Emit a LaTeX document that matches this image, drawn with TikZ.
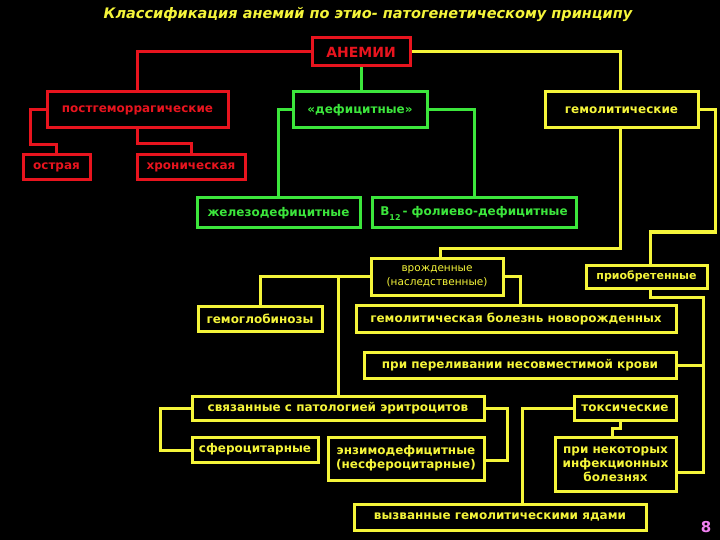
\documentclass[tikz,border=0pt]{standalone}
\usepackage{fontspec}
\setmainfont{DejaVu Sans}
\usetikzlibrary{calc}
\definecolor{rr}{HTML}{E8141E}
\definecolor{gg}{HTML}{3CE63C}
\definecolor{yy}{HTML}{F5F53A}
\definecolor{pk}{HTML}{F080F0}
\newcommand{\bx}[7]{\node[draw=#6,text=#6,line width=3pt,inner sep=0pt,minimum width=#4-#2,minimum height=#5-#3,align=center,font=\fontsize{12}{14}\selectfont\bfseries] (#1) at ({(#2+#4)/2},{(#3+#5)/2}) {#7};}
\begin{document}
\begin{tikzpicture}[x=1pt,y=-1pt,line width=3pt]
\fill[black] (0,0) rectangle (720,540);
\useasboundingbox (0,0) rectangle (720,540);
\node[text=yy,font=\fontsize{14.5}{16}\selectfont\bfseries\itshape] (title) at (368,15) {Классификация анемий по этио- патогенетическому принципу};
\bx{an}{312}{38}{410}{66}{rr}{\fontsize{14}{15}\selectfont\bfseries АНЕМИИ}
\bx{pg}{47}{92}{228}{128}{rr}{постгеморрагические}
\bx{df}{293}{92}{427}{128}{gg}{«дефицитные»}
\bx{gm}{545}{92}{698}{128}{yy}{гемолитические}
\bx{os}{23}{155}{90}{180}{rr}{острая}
\bx{hr}{137}{155}{245}{180}{rr}{хроническая}
\bx{zh}{197}{198}{360}{228}{gg}{железодефицитные}
\bx{bf}{372}{198}{576}{228}{gg}{B\raisebox{-5pt}{\fontsize{8}{8}\selectfont 12}\,- фолиево-дефицитные}
\bx{vr}{371}{258}{503}{295}{yy}{\fontsize{10.5}{12}\selectfont\mdseries врожденные\\\fontsize{10.5}{12}\selectfont\mdseries(наследственные)}
\bx{pr}{586}{265}{707}{288}{yy}{\fontsize{11}{12}\selectfont приобретенные}
\bx{hb}{198}{306}{322}{331}{yy}{гемоглобинозы}
\bx{hn}{356}{305}{676}{332}{yy}{гемолитическая болезнь новорожденных}
\bx{pp}{364}{352}{676}{378}{yy}{при переливании несовместимой крови}
\bx{sv}{192}{396}{484}{420}{yy}{связанные с патологией эритроцитов}
\bx{tx}{574}{396}{676}{420}{yy}{токсические}
\bx{sf}{192}{437}{318}{462}{yy}{сфероцитарные}
\bx{en}{328}{437}{484}{480}{yy}{энзимодефицитные\\(несфероцитарные)}
\bx{in}{555}{437}{676}{491}{yy}{при некоторых\\инфекционных\\болезнях}
\bx{vy}{354}{504}{646}{530}{yy}{вызванные гемолитическими ядами}
\node[text=pk,font=\fontsize{15}{16}\selectfont\bfseries] (num) at (706,527) {8};
% red
\draw[rr] (an.west) -| (pg.north);
\draw[rr] (pg.west) -| (30,145) -| (os.north);
\draw[rr] (pg.south) |- ($(hr.north)+(0,-10)$) -- (hr.north);
% green
\draw[gg] (an.south) -- (an.south|-df.north);
\draw[gg] (df.west) -| (zh.north-|278,0);
\draw[gg] (df.east) -| (bf.north-|474,0);
% yellow
\draw[yy] (an.east) -| (gm.north-|620,0);
\draw[yy] (gm.south-|620,0) |- (440,248) -- (vr.north-|440,0);
\draw[yy] (gm.east) -| (715,232) -| (pr.north-|650,0);
\draw[yy] (vr.west) -| (hb.north-|260,0);
\draw[yy] (338,276.5) -- (sv.north-|338,0);
\draw[yy] (vr.east) -| (hn.north-|520,0);
\draw[yy] (pr.south-|650,0) |- (703,297) -- (703,472) -- (tx.east|-0,472) ;
\draw[yy] (pp.east) -- (703,365);
\draw[yy] (tx.south-|620,0) -- (620,428) -| (in.north-|612,0);
\draw[yy] (tx.west) -| (vy.north-|522,0);
\draw[yy] (sv.west) -| (160,450) -- (sf.west|-0,450);
\draw[yy] (sv.east) -| (507,460) -- (en.east|-0,460);
\end{tikzpicture}
\end{document}
